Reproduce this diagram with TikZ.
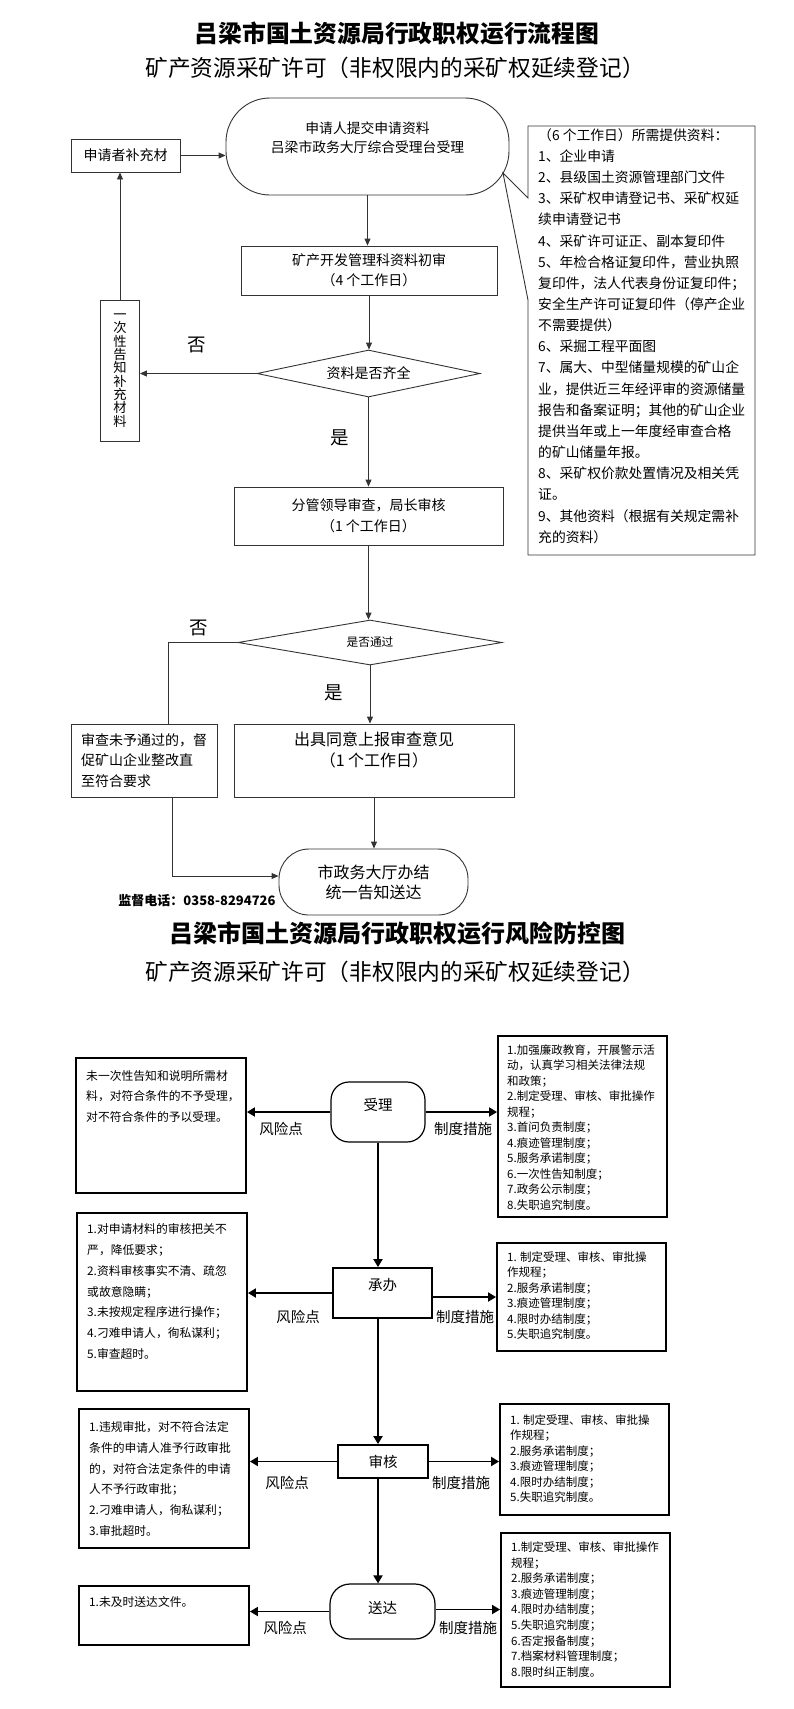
\documentclass[tikz,border=0pt]{standalone}
\usepackage{fontspec}
\setmainfont{Noto Sans CJK SC}
\usetikzlibrary{shapes.geometric,arrows.meta}
\newcommand{\setfs}[2]{\fontsize{#1}{#2}\selectfont}

\tikzset{
  flowbox/.style={draw=black!80, line width=0.9pt, inner sep=0pt, align=center, font=\setfs{14}{20}},
  decision/.style={flowbox, diamond},
  flowline/.style={draw=black!80, line width=0.9pt},
  flowarrow/.style={flowline, -{Triangle[length=7pt,width=6pt]}},
  yesno/.style={inner sep=0pt, font=\setfs{18.5}{20}},
  riskbox/.style={draw, line width=1.8pt, inner sep=0pt},
  risktext/.style={inner sep=0pt, anchor=west, align=left, font=\setfs{11.8}{20.8}},
  ruletext/.style={inner sep=0pt, anchor=west, align=left, font=\setfs{11.5}{15.5}},
  stepnode/.style={draw, line width=1.8pt, inner sep=0pt, font=\setfs{14.5}{16}},
  sidelabel/.style={inner sep=0pt, font=\setfs{14.5}{16}},
  boldarrow/.style={line width=1.8pt, -{Triangle[length=8pt,width=9pt]}},
}

\begin{document}
\begin{tikzpicture}[x=1pt,y=-1pt]
\useasboundingbox (0,0) rectangle (793,1709);

% flow chart
\node[font=\bfseries\setfs{23.8}{26}] (title1) at (397,33) {吕梁市国土资源局行政职权运行流程图};
\node[font=\setfs{22.7}{25}] (sub1) at (395,68) {矿产资源采矿许可（非权限内的采矿权延续登记）};

\node[flowbox, rounded corners=44pt, minimum width=283pt, minimum height=97pt] (apply) at (367.5,146.5) {};
\node[inner sep=0pt, align=center, font=\setfs{13.8}{19}] (apply-t) at (367.5,137.5) {申请人提交申请资料\\吕梁市政务大厅综合受理台受理};
\node[flowbox, minimum width=109pt, minimum height=33pt] (supp) at (125.5,155.5) {申请者补充材};
\node[flowbox, minimum width=256pt, minimum height=49pt] (review) at (369,270.5) {矿产开发管理科资料初审\\（4 个工作日）};
\node[flowbox, minimum width=39pt, minimum height=141pt, font=\setfs{13.3}{13.3}] (notify) at (120,370.5) {一\\次\\性\\告\\知\\补\\充\\材\\料};
\node[decision, aspect=4.7, minimum width=223pt, minimum height=47pt] (dia1) at (368.5,373.5) {资料是否齐全};
\node[yesno] (no1) at (197,345) {否};
\node[yesno] (yes1) at (340,438) {是};
\node[flowbox, minimum width=269pt, minimum height=58pt, font=\setfs{14}{21}] (lead) at (368.5,516) {分管领导审查，局长审核\\（1 个工作日）};
\node[decision, aspect=5.9, minimum width=264pt, minimum height=45pt, font=\setfs{11.7}{13}] (dia2) at (370,642.5) {是否通过};
\node[yesno] (no2) at (199,628) {否};
\node[yesno] (yes2) at (334,693) {是};
\node[flowbox, minimum width=146pt, minimum height=73pt, align=left, font=\setfs{14}{20.5}] (fail) at (144,760.5) {审查未予通过的，督\\促矿山企业整改直\\至符合要求};
\node[flowbox, minimum width=280pt, minimum height=73pt] (issue) at (374,760.5) {};
\node[inner sep=0pt, align=center, font=\setfs{16}{21}] (issue-t) at (374,749.5) {出具同意上报审查意见\\（1 个工作日）};
\node[flowbox, rounded corners=30pt, minimum width=189pt, minimum height=66pt, font=\setfs{16}{20}] (endterm) at (373.5,882) {市政务大厅办结\\统一告知送达};
\node[font=\bfseries\setfs{13}{15}] (phone) at (197,901) {监督电话：0358-8294726};

% materials callout
\draw[flowline] (528,126) -- (755,126) -- (755,555) -- (528,555) -- (528,300) -- (503,173) -- (528,198) -- cycle;
\node[inner sep=0pt, anchor=west, align=left, font=\setfs{13.8}{21.16}] (docs) at (538,336) {（6 个工作日）所需提供资料：\\
1、企业申请\\
2、县级国土资源管理部门文件\\
3、采矿权申请登记书、采矿权延\\
续申请登记书\\
4、采矿许可证正、副本复印件\\
5、年检合格证复印件，营业执照\\
复印件，法人代表身份证复印件；\\
安全生产许可证复印件（停产企业\\
不需要提供）\\
6、采掘工程平面图\\
7、属大、中型储量规模的矿山企\\
业，提供近三年经评审的资源储量\\
报告和备案证明；其他的矿山企业\\
提供当年或上一年度经审查合格\\
的矿山储量年报。\\
8、采矿权价款处置情况及相关凭\\
证。\\
9、其他资料（根据有关规定需补\\
充的资料）};

\draw[flowarrow] (supp.east) -- (supp.east -| apply.west);
\draw[flowarrow] (apply.south) -- (apply.south |- review.north);
\draw[flowarrow] (review.south) -- (review.south |- dia1.north);
\draw[flowarrow] (dia1.west) -- (dia1.west -| notify.east);
\draw[flowarrow] (notify.north) -- (notify.north |- supp.south);
\draw[flowarrow] (dia1.south) -- (dia1.south |- lead.north);
\draw[flowarrow] (lead.south) -- (lead.south |- dia2.north);
\draw[flowline] (dia2.west) -| ([xshift=24pt]fail.north);
\draw[flowarrow] (dia2.south) -- (dia2.south |- issue.north);
\draw[flowarrow] (issue.south) -- (issue.south |- endterm.north);
\draw[flowarrow] ([xshift=28pt]fail.south) |- ([yshift=6pt]endterm.west);

% risk chart
\node[font=\bfseries\setfs{24}{26}] (title2) at (397,933) {吕梁市国土资源局行政职权运行风险防控图};
\node[font=\setfs{22.7}{25}] (sub2) at (395,972) {矿产资源采矿许可（非权限内的采矿权延续登记）};

\node[stepnode, line width=1.2pt, rounded corners=18pt, minimum width=94pt, minimum height=60pt] (acc) at (378,1112) {};
\node[sidelabel] (acc-t) at (378,1105) {受理};
\node[stepnode, minimum width=99pt, minimum height=50pt] (proc) at (382.5,1293) {};
\node[sidelabel] (proc-t) at (382.5,1285) {承办};
\node[stepnode, minimum width=90pt, minimum height=33pt] (rev) at (383,1461.5) {审核};
\node[stepnode, line width=1.2pt, rounded corners=20pt, minimum width=105pt, minimum height=55pt] (send) at (382.5,1611.5) {};
\node[sidelabel] (send-t) at (382.5,1608) {送达};
\coordinate (spine) at (acc.south);

\node[riskbox, minimum width=170pt, minimum height=135pt] (r1) at (161,1125.5) {};
\node[risktext, font=\setfs{11.8}{20.5}] (r1-t) at (86,1096.5) {未一次性告知和说明所需材\\料，对符合条件的不予受理，\\对不符合条件的予以受理。};
\node[riskbox, minimum width=170pt, minimum height=178pt] (r2) at (162,1302) {};
\node[risktext] (r2-t) at (87,1291.5) {1.对申请材料的审核把关不\\严，降低要求；\\2.资料审核事实不清、疏忽\\或故意隐瞒；\\3.未按规定程序进行操作；\\4.刁难申请人，徇私谋利；\\5.审查超时。};
\node[riskbox, minimum width=170pt, minimum height=139pt] (r3) at (164,1478.5) {};
\node[risktext] (r3-t) at (89,1479) {1.违规审批，对不符合法定\\条件的申请人准予行政审批\\的，对符合法定条件的申请\\人不予行政审批；\\2.刁难申请人，徇私谋利；\\3.审批超时。};
\node[riskbox, minimum width=170pt, minimum height=59pt] (r4) at (164,1615.5) {};
\node[risktext] (r4-t) at (89,1602) {1.未及时送达文件。};

\node[riskbox, minimum width=169pt, minimum height=181pt] (m1) at (582.5,1126.5) {};
\node[ruletext] (m1-t) at (507,1127.5) {1.加强廉政教育，开展警示活\\动，认真学习相关法律法规\\和政策；\\2.制定受理、审核、审批操作\\规程；\\3.首问负责制度；\\4.痕迹管理制度；\\5.服务承诺制度；\\6.一次性告知制度；\\7.政务公示制度；\\8.失职追究制度。};
\node[riskbox, minimum width=169pt, minimum height=108pt] (m2) at (581.5,1297) {};
\node[ruletext] (m2-t) at (507,1295.5) {1. 制定受理、审核、审批操\\作规程；\\2.服务承诺制度；\\3.痕迹管理制度；\\4.限时办结制度；\\5.失职追究制度。};
\node[riskbox, minimum width=169pt, minimum height=111pt] (m3) at (584.5,1459.5) {};
\node[ruletext] (m3-t) at (510,1458.5) {1. 制定受理、审核、审批操\\作规程；\\2.服务承诺制度；\\3.痕迹管理制度；\\4.限时办结制度；\\5.失职追究制度。};
\node[riskbox, minimum width=169pt, minimum height=154pt] (m4) at (585.5,1610) {};
\node[ruletext, font=\setfs{11.5}{15.6}] (m4-t) at (511,1609.5) {1.制定受理、审核、审批操作\\规程；\\2.服务承诺制度；\\3.痕迹管理制度；\\4.限时办结制度；\\5.失职追究制度；\\6.否定报备制度；\\7.档案材料管理制度；\\8.限时纠正制度。};

\node[sidelabel] (risk1) at (281,1129) {风险点};
\node[sidelabel] (rule1) at (463,1129) {制度措施};
\node[sidelabel] (risk2) at (298,1317) {风险点};
\node[sidelabel] (rule2) at (465,1317) {制度措施};
\node[sidelabel] (risk3) at (287,1483) {风险点};
\node[sidelabel] (rule3) at (461,1483) {制度措施};
\node[sidelabel] (risk4) at (285,1628) {风险点};
\node[sidelabel] (rule4) at (468,1628) {制度措施};

\draw[boldarrow] (spine) -- (spine |- proc.north);
\draw[boldarrow] (spine |- proc.south) -- (spine |- rev.north);
\draw[boldarrow] (spine |- rev.south) -- (spine |- send.north);
\draw[boldarrow] (acc.west) -- (acc.west -| r1.east);
\draw[boldarrow] (acc.east) -- (acc.east -| m1.west);
\draw[boldarrow] (proc.west) -- (proc.west -| r2.east);
\draw[boldarrow] ([yshift=-4pt]proc.east) -- ([yshift=-4pt]proc.east -| m2.west);
\draw[boldarrow] (rev.west) -- (rev.west -| r3.east);
\draw[boldarrow] (rev.east) -- (rev.east -| m3.west);
\draw[boldarrow] (send.west) -- (send.west -| r4.east);
\draw[boldarrow] ([yshift=2pt]send.east) -- ([yshift=2pt]send.east -| m4.west);
\end{tikzpicture}
\end{document}
